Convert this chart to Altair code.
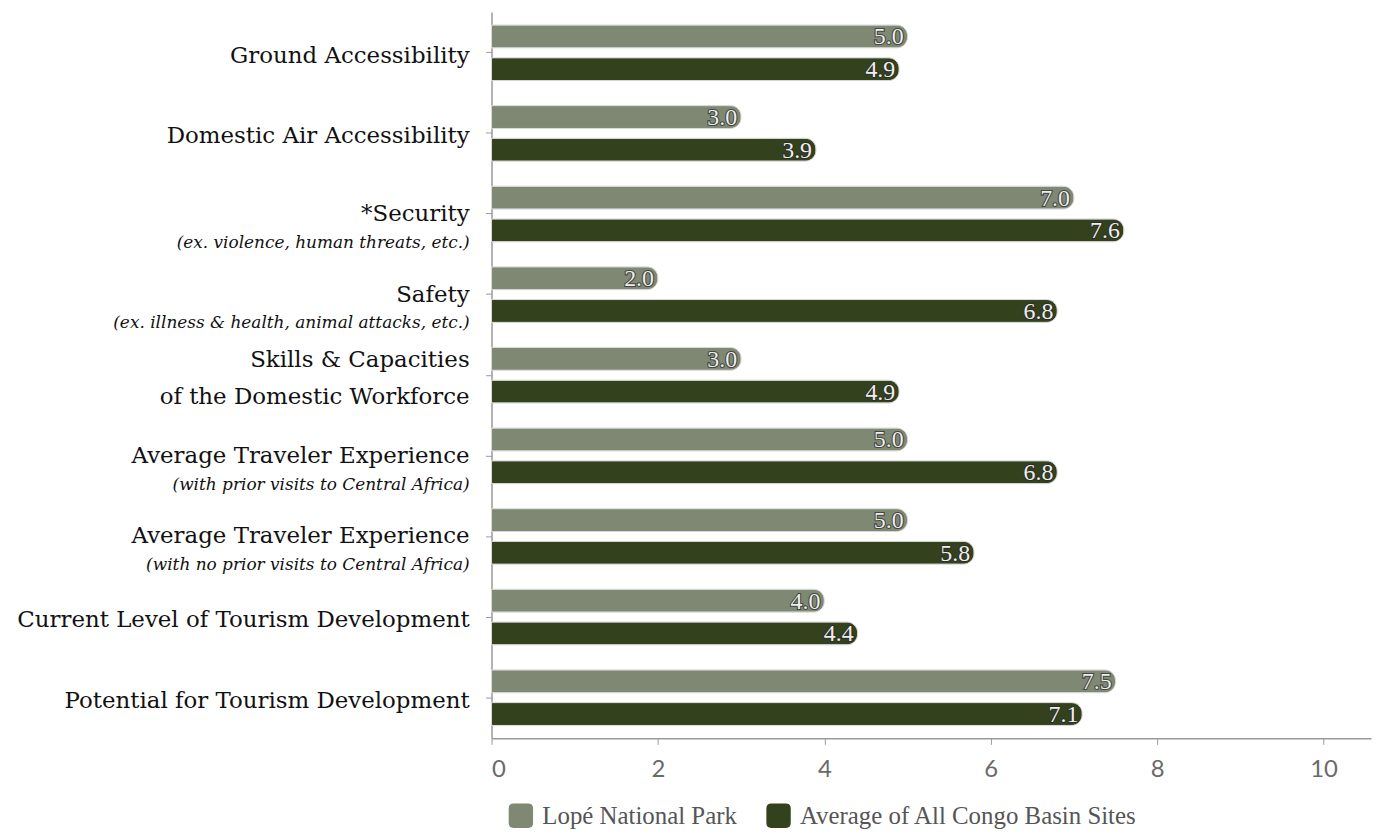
import altair as alt
import pandas as pd

# ---- data ----
main_lines = [
    "Ground Accessibility",
    "Domestic Air Accessibility",
    "*Security ",
    "Safety ",
    "Skills & Capacities \nof the Domestic Workforce",
    "Average Traveler Experience",
    "Average Traveler Experience",
    "Current Level of Tourism Development",
    "Potential for Tourism Development",
]
sub_lines = [
    "",
    "",
    "(ex. violence, human threats, etc.)",
    "(ex. illness & health, animal attacks, etc.)",
    "",
    "(with prior visits to Central Africa)",
    "(with no prior visits to Central Africa)",
    "",
    "",
]
series = ["Lopé National Park", "Average of All Congo Basin Sites"]
lope = [5.0, 3.0, 7.0, 2.0, 3.0, 5.0, 5.0, 4.0, 7.5]
congo = [4.9, 3.9, 7.6, 6.8, 4.9, 6.8, 5.8, 4.4, 7.1]
x_ticks = [0, 2, 4, 6, 8, 10]

colors = ["#7E8872", "#34411D"]

keys = [f"{m}|{s}" for m, s in zip(main_lines, sub_lines)]

bars = pd.DataFrame(
    [{"key": k, "series": series[0], "value": v, "label": f"{v:.1f}"} for k, v in zip(keys, lope)]
    + [{"key": k, "series": series[1], "value": v, "label": f"{v:.1f}"} for k, v in zip(keys, congo)]
)
cats = pd.DataFrame({"key": keys, "main": main_lines, "sub": sub_lines})

y_enc = alt.Y(
    "key:N",
    sort=keys,
    scale=alt.Scale(paddingInner=0.31, paddingOuter=0.16),
    axis=alt.Axis(labels=False, title=None, ticks=True, tickSize=6,
                  tickColor="#9a9a9a", domainColor="#9a9a9a", domainWidth=1.5),
)
x_enc = alt.X(
    "value:Q",
    scale=alt.Scale(domain=[0, 10.57], nice=False),
    axis=alt.Axis(values=x_ticks, title=None, grid=False, tickSize=6,
                  tickColor="#9a9a9a", domainColor="#9a9a9a", domainWidth=1.5,
                  labelColor="#6a6a6a", labelFont="Lato", labelFontSize=24,
                  labelPadding=13, format="d"),
)
yoff = alt.YOffset("series:N", sort=series, scale=alt.Scale(paddingInner=0.3))

base = alt.Chart(bars)

bar_layer = base.mark_bar(cornerRadiusEnd=11, stroke="#d8d8d8", strokeWidth=1).encode(
    x=x_enc,
    y=y_enc,
    yOffset=yoff,
    color=alt.Color(
        "series:N",
        sort=series,
        scale=alt.Scale(domain=series, range=colors),
        legend=alt.Legend(title=None, orient="none", legendX=17, legendY=795,
                          direction="horizontal", symbolSize=600,
                          symbolType="M-1,-0.6Q-1,-1,-0.6,-1L0.6,-1Q1,-1,1,-0.6L1,0.6Q1,1,0.6,1L-0.6,1Q-1,1,-1,0.6Z",
                          symbolStrokeWidth=0, labelFont="Liberation Serif",
                          labelFontSize=25, labelColor="#555555", labelOffset=9,
                          labelLimit=0, columnPadding=29, symbolOpacity=1),
    ),
)

val_shadow = base.mark_text(align="right", baseline="middle", dx=-4, dy=1,
                            font="Liberation Serif", fontSize=24,
                            stroke="#2a2a2a", strokeWidth=2.2, fill="#2a2a2a",
                            strokeOpacity=0.7).encode(
    x="value:Q", y=alt.Y("key:N", sort=keys), yOffset=yoff, text="label:N")
val_text = base.mark_text(align="right", baseline="middle", dx=-4, dy=1,
                          font="Liberation Serif", fontSize=24, color="#eeeeee").encode(
    x="value:Q", y=alt.Y("key:N", sort=keys), yOffset=yoff, text="label:N")

cbase = alt.Chart(cats)
label_style = dict(align="right", baseline="middle", font="DejaVu Serif",
                   fontSize=23, color="#111111", lineBreak="\n", lineHeight=37)
main_sub = cbase.mark_text(dy=0, **label_style).encode(
    x=alt.value(-22), y=alt.Y("key:N", sort=keys), text="main:N"
).transform_filter("datum.sub != ''")
main_only = cbase.mark_text(dy=3, **label_style).encode(
    x=alt.value(-22), y=alt.Y("key:N", sort=keys), text="main:N"
).transform_filter("datum.sub == '' && indexof(datum.main, '\\n') < 0")
main_two = cbase.mark_text(dy=-15, **label_style).encode(
    x=alt.value(-22), y=alt.Y("key:N", sort=keys), text="main:N"
).transform_filter("datum.sub == '' && indexof(datum.main, '\\n') >= 0")
sub_text = cbase.mark_text(align="right", baseline="middle", font="DejaVu Serif",
                           fontStyle="italic", fontSize=17, color="#111111",
                           dy=29).encode(
    x=alt.value(-22), y=alt.Y("key:N", sort=keys), text="sub:N"
).transform_filter("datum.sub != ''")

chart = alt.layer(bar_layer, val_shadow, val_text, main_sub, main_only, main_two, sub_text).properties(
    width=884, height=730,
    autosize=alt.AutoSizeParams(type="none"),
    padding={"left": 486, "top": 2, "right": 4, "bottom": 92},
).configure_view(stroke=None)

chart.save("out.html", embed_options={"renderer": "svg", "actions": False})
